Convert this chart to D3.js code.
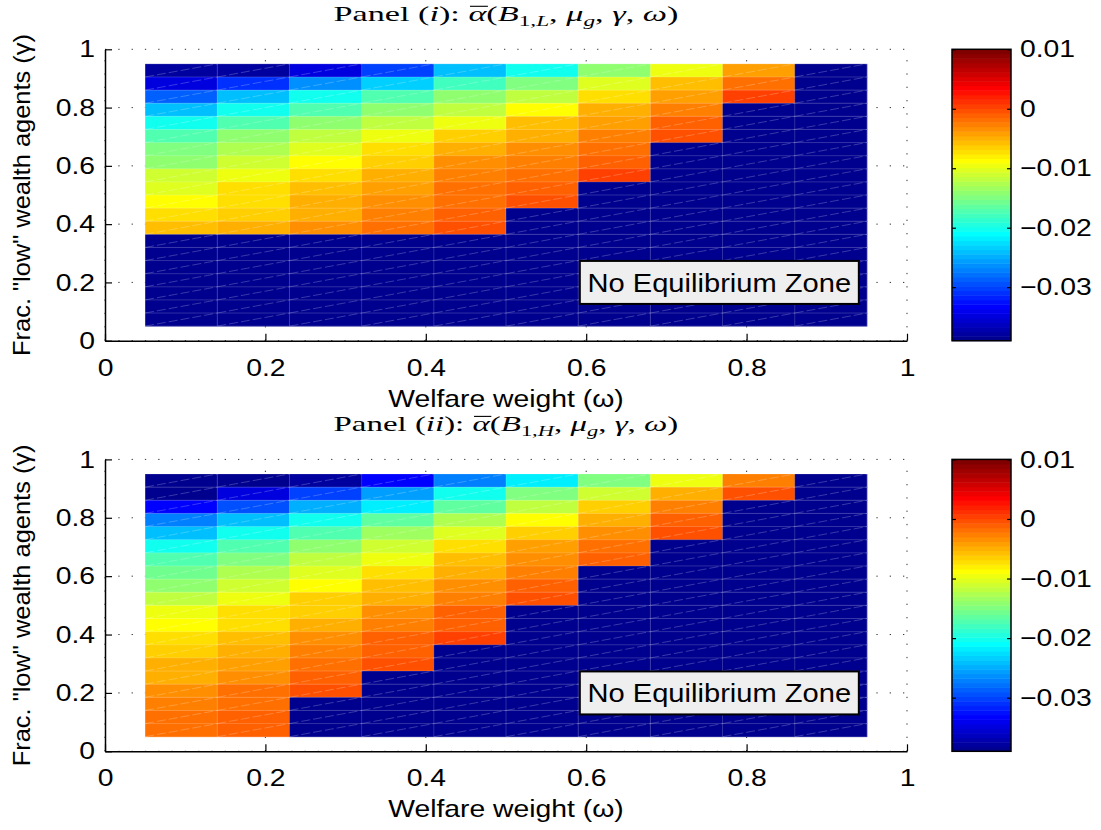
<!DOCTYPE html>
<html><head><meta charset="utf-8">
<script src="https://cdn.jsdelivr.net/npm/d3@7"></script>
<style>
body{margin:0;background:#fff}
svg{display:block}
text{font-family:"Liberation Sans",Arial,sans-serif;fill:#000}
</style>
</head><body>
<svg id="chart" width="1101" height="830"></svg>
<script>
// ---------------- data ----------------
const omegaEdges = [0.05,0.14,0.23,0.32,0.41,0.50,0.59,0.68,0.77,0.86,0.95];
const gammaEdges = [0.05,0.095,0.14,0.185,0.23,0.275,0.32,0.365,0.41,0.455,0.50,
                    0.545,0.59,0.635,0.68,0.725,0.77,0.815,0.86,0.905,0.95];
// rows listed from top (gamma 0.905-0.95) to bottom (gamma 0.05-0.095); null = no equilibrium
const panel1Values = [
  [-0.0380,-0.0380,-0.0351,-0.0304,-0.0243,-0.0204,-0.0145,-0.0096,-0.0045,null],
  [-0.0351,-0.0312,-0.0267,-0.0231,-0.0182,-0.0150,-0.0101,-0.0059,-0.0022,null],
  [-0.0287,-0.0243,-0.0206,-0.0174,-0.0145,-0.0116,-0.0074,-0.0042, 0.0002,null],
  [-0.0238,-0.0206,-0.0174,-0.0145,-0.0116,-0.0084,-0.0052,-0.0025,null,null],
  [-0.0201,-0.0170,-0.0145,-0.0116,-0.0096,-0.0059,-0.0042,-0.0010,null,null],
  [-0.0174,-0.0145,-0.0121,-0.0098,-0.0067,-0.0047,-0.0025, 0.0000,null,null],
  [-0.0150,-0.0125,-0.0101,-0.0076,-0.0049,-0.0037,-0.0018,null,null,null],
  [-0.0145,-0.0108,-0.0084,-0.0067,-0.0037,-0.0025,-0.0010,null,null,null],
  [-0.0108,-0.0096,-0.0074,-0.0049,-0.0027,-0.0018, 0.0002,null,null,null],
  [-0.0101,-0.0072,-0.0059,-0.0045,-0.0022,-0.0008,null,null,null,null],
  [-0.0084,-0.0069,-0.0049,-0.0032,-0.0018, 0.0000,null,null,null,null],
  [-0.0072,-0.0067,-0.0047,-0.0027,-0.0010,null,null,null,null,null],
  [-0.0059,-0.0052,-0.0037,-0.0020,-0.0003,null,null,null,null,null],
  [null,null,null,null,null,null,null,null,null,null],
  [null,null,null,null,null,null,null,null,null,null],
  [null,null,null,null,null,null,null,null,null,null],
  [null,null,null,null,null,null,null,null,null,null],
  [null,null,null,null,null,null,null,null,null,null],
  [null,null,null,null,null,null,null,null,null,null],
  [null,null,null,null,null,null,null,null,null,null]
];
const panel2Values = [
  [-0.0390,-0.0385,-0.0380,-0.0329,-0.0272,-0.0219,-0.0150,-0.0094,-0.0025,null],
  [-0.0385,-0.0351,-0.0304,-0.0255,-0.0206,-0.0150,-0.0108,-0.0052,-0.0005,null],
  [-0.0329,-0.0292,-0.0248,-0.0214,-0.0165,-0.0116,-0.0067,-0.0027,null,null],
  [-0.0272,-0.0238,-0.0201,-0.0165,-0.0125,-0.0084,-0.0047,-0.0010,null,null],
  [-0.0238,-0.0206,-0.0170,-0.0133,-0.0101,-0.0067,-0.0032, 0.0000,null,null],
  [-0.0201,-0.0170,-0.0140,-0.0108,-0.0072,-0.0045,-0.0018,null,null,null],
  [-0.0174,-0.0150,-0.0121,-0.0094,-0.0057,-0.0035,-0.0010,null,null,null],
  [-0.0157,-0.0125,-0.0103,-0.0076,-0.0047,-0.0025,null,null,null,null],
  [-0.0140,-0.0108,-0.0084,-0.0059,-0.0035,-0.0013,null,null,null,null],
  [-0.0116,-0.0096,-0.0067,-0.0047,-0.0025,-0.0003,null,null,null,null],
  [-0.0096,-0.0076,-0.0062,-0.0037,-0.0013,null,null,null,null,null],
  [-0.0084,-0.0069,-0.0049,-0.0027,-0.0008,null,null,null,null,null],
  [-0.0072,-0.0057,-0.0037,-0.0013, 0.0002,null,null,null,null,null],
  [-0.0067,-0.0049,-0.0027,-0.0008,null,null,null,null,null,null],
  [-0.0052,-0.0042,-0.0020,-0.0003,null,null,null,null,null,null],
  [-0.0047,-0.0032,-0.0010,null,null,null,null,null,null,null],
  [-0.0037,-0.0022,-0.0003,null,null,null,null,null,null,null],
  [-0.0027,-0.0018,null,null,null,null,null,null,null,null],
  [-0.0020,-0.0013,null,null,null,null,null,null,null,null],
  [-0.0020,-0.0008,null,null,null,null,null,null,null,null]
];
const axisTicks = [0,0.2,0.4,0.6,0.8,1];
const axisTickLabels = ["0","0.2","0.4","0.6","0.8","1"];
const colorbarTicks = [0.01,0,-0.01,-0.02,-0.03];
const colorbarTickLabels = ["0.01","0","\u22120.01","\u22120.02","\u22120.03"];
const colorLimits = [-0.039,0.01];
const xLabelText = "Welfare weight (\u03C9)";
const yLabelText = 'Frac. "low" wealth agents (\u03B3)';
const boxText = "No Equilibrium Zone";
// title pieces: [text, style]  (it = italic, sub = subscript, ov = overline)
const title1Parts = [["Panel (",""],["i","it"],["): ",""],["\u03B1","it ov"],["(",""],["B","it"],["1,","sub"],["L","sub it"],[", ",""],["\u03BC","it"],["g","sub it"],[", ",""],["\u03B3","it"],[", ",""],["\u03C9","it"],[")",""]];
const title2Parts = [["Panel (",""],["ii","it"],["): ",""],["\u03B1","it ov"],["(",""],["B","it"],["1,","sub"],["H","sub it"],[", ",""],["\u03BC","it"],["g","sub it"],[", ",""],["\u03B3","it"],[", ",""],["\u03C9","it"],[")",""]];

// ---------------- colormap (MATLAB jet, 64 levels) ----------------
const NC = 64;
function uval(j){ if(j<1||j>47) return 0; if(j<=16) return j/16; if(j<=31) return 1; return (48-j)/16; }
const jetColors = d3.range(1,NC+1).map(i => d3.rgb(255*uval(i-24),255*uval(i-8),255*uval(i+8)).toString());
function colorOf(v){
  if(v===null) return jetColors[0];
  let k = Math.floor((v-colorLimits[0])/(colorLimits[1]-colorLimits[0])*NC);
  k = Math.max(0,Math.min(NC-1,k));
  return jetColors[k];
}

// ---------------- layout ----------------
const svg = d3.select("#chart");
const SX = 1.18; // horizontal text stretch
const x = d3.scaleLinear().domain([0,1]).range([105,907]);
const panels = [
  {values: panel1Values, title: title1Parts, yr: [340.7,49.3]},
  {values: panel2Values, title: title2Parts, yr: [751.3,459.4]}
];
const cbX = [952,1011];

panels.forEach(p => {
  const y = d3.scaleLinear().domain([0,1]).range(p.yr);
  const g = svg.append("g");
  const y0 = y(0), y1 = y(1), x0 = x(0), x1 = x(1);

  // dotted grid (below image)
  const grid = g.append("g");
  grid.selectAll("line.gx").data(axisTicks).join("line")
    .attr("x1",d=>x(d)).attr("x2",d=>x(d)).attr("y1",y0).attr("y2",y1)
    .attr("stroke","#333").attr("stroke-width",1).attr("stroke-dasharray","1.3,12");
  grid.selectAll("line.gy").data(axisTicks).join("line")
    .attr("y1",d=>y(d)).attr("y2",d=>y(d)).attr("x1",x0).attr("x2",x1)
    .attr("stroke","#333").attr("stroke-width",1).attr("stroke-dasharray","1.3,12");

  // cells
  const cells = [];
  p.values.forEach((row,r) => row.forEach((v,c) => {
    cells.push({v, w0: omegaEdges[c], w1: omegaEdges[c+1], g0: gammaEdges[19-r], g1: gammaEdges[20-r]});
  }));
  g.append("g").selectAll("rect").data(cells).join("rect")
    .attr("x",d=>x(d.w0)).attr("y",d=>y(d.g1))
    .attr("width",d=>x(d.w1)-x(d.w0)+0.4).attr("height",d=>y(d.g0)-y(d.g1)+0.4)
    .attr("fill",d=>colorOf(d.v));
  // faint triangle diagonals
  g.append("g").selectAll("line").data(cells).join("line")
    .attr("x1",d=>x(d.w0)).attr("y1",d=>y(d.g0)).attr("x2",d=>x(d.w1)).attr("y2",d=>y(d.g1))
    .attr("stroke","rgba(255,255,255,0.28)").attr("stroke-width",0.8).attr("stroke-dasharray","9,3");
  // faint cell edges
  const eg = g.append("g").attr("stroke","rgba(255,255,255,0.2)").attr("stroke-width",0.9);
  eg.selectAll("line.v").data(omegaEdges).join("line")
    .attr("x1",d=>x(d)).attr("x2",d=>x(d)).attr("y1",y(gammaEdges[0])).attr("y2",y(gammaEdges[20]));
  eg.selectAll("line.h").data(gammaEdges).join("line")
    .attr("y1",d=>y(d)).attr("y2",d=>y(d)).attr("x1",x(omegaEdges[0])).attr("x2",x(omegaEdges[10]));

  // axes
  const ax = g.append("g").attr("transform",`translate(${x0},0)`)
    .call(d3.axisLeft(y).tickValues(axisTicks).tickFormat((d,i)=>axisTickLabels[i]).tickSize(-7).tickSizeOuter(0).tickPadding(10));
  const bx = g.append("g").attr("transform",`translate(0,${y0})`)
    .call(d3.axisBottom(x).tickValues(axisTicks).tickFormat((d,i)=>axisTickLabels[i]).tickSize(-7).tickSizeOuter(0).tickPadding(18));
  [ax,bx].forEach(a => {
    a.select(".domain").attr("stroke","#000").attr("stroke-width",1.5);
    a.selectAll(".tick line").attr("stroke","#000").attr("stroke-width",1.2);
    a.selectAll(".tick text").attr("font-size",24).attr("font-family","Liberation Sans, Arial, sans-serif").attr("fill","#000");
  });
  ax.selectAll(".tick text").each(function(){
    const t = d3.select(this); const xx = +t.attr("x");
    t.attr("x",0).attr("transform",`translate(${xx},0) scale(${SX},1)`);
  });
  bx.selectAll(".tick text").each(function(){
    const t = d3.select(this); const yy = +t.attr("y");
    t.attr("y",0).attr("transform",`translate(0,${yy}) scale(${SX},1)`);
  });

  // axis labels
  g.append("text").attr("text-anchor","middle").attr("font-size",24)
    .attr("transform",`translate(${(x0+x1)/2},${y0+66}) scale(${SX},1)`).text(xLabelText);
  g.append("text").attr("text-anchor","middle").attr("font-size",24)
    .attr("transform",`translate(30,${(y0+y1)/2}) rotate(-90) scale(1.06,1)`).text(yLabelText);

  // title (LaTeX-like), stretched to the reference width
  const tg = g.append("g").attr("transform",`translate(${(x0+x1)/2},${y1-28})`);
  const inner = tg.append("g");
  const tt = inner.append("text").attr("font-size",22)
    .style("font-family","'Liberation Serif','Times New Roman',serif");
  let shifted = false, ovIndex = -1, count = 0;
  p.title.forEach(([txt,st]) => {
    const s = tt.append("tspan").text(txt);
    const sub = st.includes("sub");
    if(st.includes("it")) s.attr("font-style","italic");
    if(sub){ s.attr("font-size",15); if(!shifted){ s.attr("dy",5); shifted=true; } }
    else if(shifted){ s.attr("dy",-5); shifted=false; }
    if(st.includes("ov")) ovIndex = count;
    count += txt.length;
  });
  const natW = tt.node().getComputedTextLength();
  inner.attr("transform",`scale(${345/natW},1) translate(${-natW/2},0)`);
  if(ovIndex>=0){
    const a0 = tt.node().getStartPositionOfChar(ovIndex).x;
    const a1 = tt.node().getEndPositionOfChar(ovIndex).x;
    inner.append("line").attr("x1",a0+1).attr("x2",a1+1).attr("y1",-15).attr("y2",-15)
      .attr("stroke","#000").attr("stroke-width",1.1);
  }

  // annotation box
  const bxC = x(0.766), byC = y(0.2);
  g.append("rect").attr("x",bxC-139.5).attr("y",byC-21.5).attr("width",279).attr("height",43)
    .attr("fill","#efefef").attr("stroke","#000").attr("stroke-width",2);
  g.append("text").attr("text-anchor","middle").attr("font-size",26)
    .attr("transform",`translate(${bxC},${byC+9.5}) scale(1.12,1)`).text(boxText);

  // colorbar
  const cy = d3.scaleLinear().domain(colorLimits).range(p.yr);
  const cb = g.append("g");
  cb.selectAll("rect").data(jetColors).join("rect")
    .attr("x",cbX[0]).attr("width",cbX[1]-cbX[0])
    .attr("y",(d,i)=>cy(colorLimits[0]+(i+1)*(colorLimits[1]-colorLimits[0])/NC))
    .attr("height",(p.yr[0]-p.yr[1])/NC+0.5)
    .attr("fill",d=>d);
  cb.append("rect").attr("x",cbX[0]).attr("y",p.yr[1]).attr("width",cbX[1]-cbX[0]).attr("height",p.yr[0]-p.yr[1])
    .attr("fill","none").attr("stroke","#000").attr("stroke-width",1.5);
  const cr = cb.append("g").attr("transform",`translate(${cbX[1]},0)`)
    .call(d3.axisRight(cy).tickValues(colorbarTicks).tickFormat((d,i)=>colorbarTickLabels[i]).tickSize(-4).tickSizeOuter(0).tickPadding(9));
  const cl = cb.append("g").attr("transform",`translate(${cbX[0]},0)`)
    .call(d3.axisLeft(cy).tickValues(colorbarTicks).tickFormat("").tickSize(-4).tickSizeOuter(0));
  [cr,cl].forEach(a => { a.select(".domain").remove(); a.selectAll(".tick line").attr("stroke","#000").attr("stroke-width",1.2); });
  cr.selectAll(".tick text").attr("font-size",24).attr("fill","#000").attr("font-family","Liberation Sans, Arial, sans-serif")
    .each(function(){
      const t = d3.select(this); const xx = +t.attr("x");
      t.attr("x",0).attr("transform",`translate(${xx},0) scale(${SX},1)`);
    });
});
</script>
</body></html>
